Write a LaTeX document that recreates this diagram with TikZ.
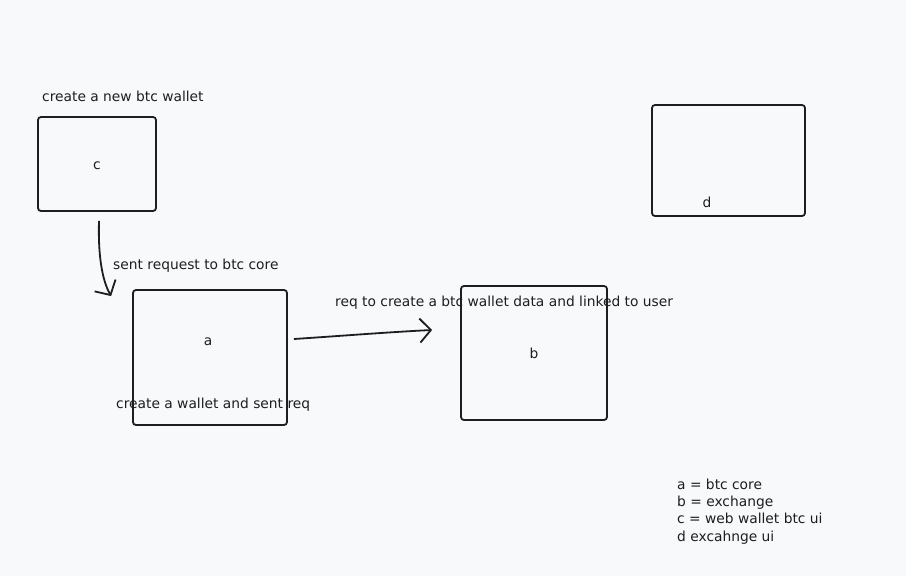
\documentclass[tikz,border=0pt]{standalone}
\usepackage{fontspec}
\setmainfont{DejaVu Sans}
\usetikzlibrary{arrows.meta}
\definecolor{ink}{HTML}{1E1E1E}
\definecolor{paper}{HTML}{F8F9FA}
\tikzset{
    box/.style={draw=ink, line width=1.8pt, rounded corners=3pt, inner sep=0pt},
    txt/.style={text=ink, font=\fontsize{13.8}{16}\selectfont, inner sep=0pt, anchor=base west},
    conn/.style={draw=ink, line width=1.8pt, -{Straight Barb[length=11pt,width=24pt,line width=1.8pt]}}
}
\begin{document}
\begin{tikzpicture}[x=1pt, y=-1pt]
    \fill[paper] (0,0) rectangle (906,576);
    \useasboundingbox (0,0) rectangle (906,576);

    % boxes
    \node[box, minimum width=118pt, minimum height=94pt] (c) at (97,164) {};
    \node[box, minimum width=154pt, minimum height=135pt] (a) at (210,357.5) {};
    \node[box, minimum width=146pt, minimum height=134pt] (b) at (534,353) {};
    \node[box, minimum width=153pt, minimum height=111pt] (d) at (728.5,160.5) {};

    % box letters
    \node[txt, anchor=base] (cl) at (97,169) {c};
    \node[txt, anchor=base] (al) at (208,345) {a};
    \node[txt, anchor=base] (bl) at (534,358) {b};
    \node[txt, anchor=base] (dl) at (707,207.5) {d};

    % labels
    \node[txt] (tc) at (42,101) {create a new btc wallet};
    \node[txt] (tca) at (113,269) {sent request to btc core};
    \node[txt] (tab) at (335,306) {req to create a btc wallet data and linked to user};
    \node[txt] (ta) at (116,408) {create a wallet and sent req};

    % arrows
    \draw[conn] ([xshift=2pt,yshift=-9pt]c.south) .. controls (98,255) and (102,280) .. ([xshift=-21pt,yshift=-7pt]a.north west);
    \draw[conn] ([xshift=6pt,yshift=18.5pt]a.east) .. controls (340,336) and (390,332) .. ([xshift=-28pt,yshift=23pt]b.west);

    % legend
    \foreach \t [count=\i] in {a = btc core, b = exchange, c = web wallet btc ui, d excahnge ui} {
        \node[txt] (leg\i) at (677, 472+\i*17.3) {\t};
    }
\end{tikzpicture}
\end{document}
